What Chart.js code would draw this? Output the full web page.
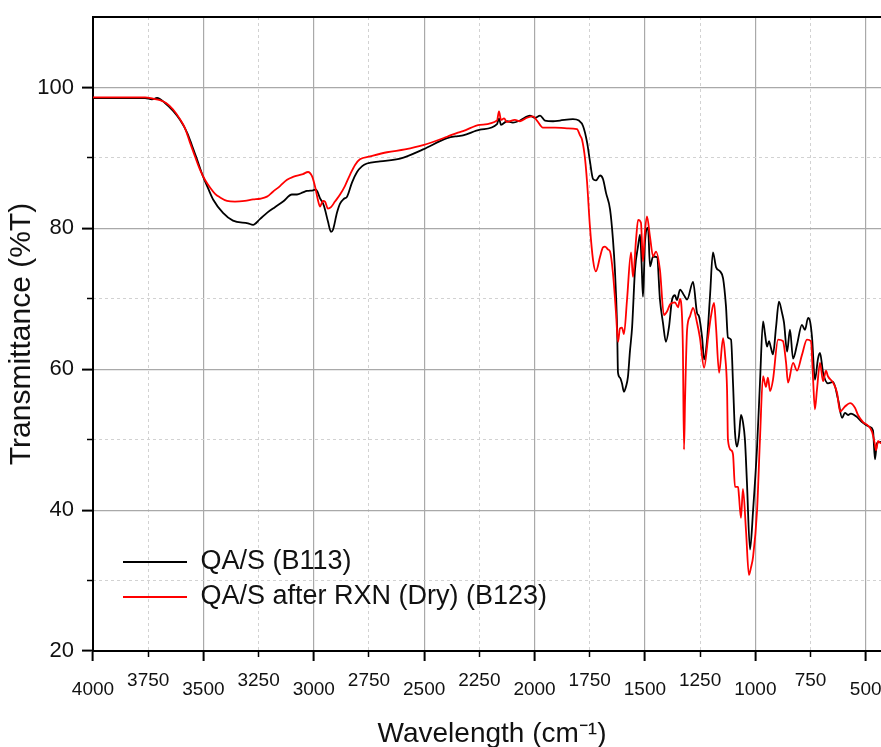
<!DOCTYPE html>
<html>
<head>
<meta charset="utf-8">
<title>FTIR spectra</title>
<script src="https://cdn.jsdelivr.net/npm/chart.js@4.4.1/dist/chart.umd.min.js"></script>
<style>
  html, body { margin: 0; padding: 0; background: #fff; overflow: hidden; }
  #wrap { width: 881px; height: 747px; overflow: hidden; position: relative; }
  canvas { display: block; }
</style>
</head>
<body>
<div id="wrap"><canvas id="ftir" width="891" height="760"></canvas></div>
<script>
// FTIR transmittance spectra, wavenumber in cm^-1 (descending)
const wnB113 = [4000, 3923, 3832, 3764, 3733, 3710, 3674, 3638, 3606, 3574, 3552, 3529, 3502, 3479, 3456, 3411, 3366, 3298, 3275, 3244, 3212, 3176, 3139, 3099, 3076, 3049, 3031, 3003, 2990, 2972, 2954, 2936, 2922, 2913, 2895, 2881, 2863, 2849, 2827, 2804, 2782, 2759, 2700, 2609, 2505, 2396, 2347, 2324, 2247, 2170, 2161, 2152, 2125, 2098, 2066, 2021, 1998, 1975, 1953, 1916, 1885, 1826, 1799, 1780, 1762, 1749, 1735, 1722, 1703, 1690, 1676, 1658, 1645, 1636, 1626, 1622, 1613, 1604, 1595, 1586, 1577, 1568, 1558, 1545, 1531, 1522, 1515, 1509, 1504, 1500, 1486, 1477, 1463, 1445, 1432, 1418, 1405, 1391, 1377, 1364, 1355, 1341, 1323, 1309, 1282, 1264, 1255, 1241, 1232, 1219, 1205, 1192, 1178, 1160, 1146, 1133, 1124, 1110, 1101, 1092, 1083, 1074, 1065, 1056, 1047, 1038, 1024, 1010, 992, 979, 965, 956, 947, 938, 929, 920, 906, 893, 879, 870, 856, 843, 829, 811, 789, 775, 761, 752, 743, 730, 716, 707, 693, 671, 648, 625, 607, 594, 580, 567, 539, 517, 481, 467, 458, 449, 431, 420];
const tB113 = [98.5, 98.5, 98.5, 98.5, 98.3, 98.5, 97.8, 96.7, 95.4, 93.6, 91.8, 89.8, 87.4, 85.7, 84.1, 82.2, 81.1, 80.7, 80.5, 81.3, 82.2, 83.0, 83.8, 84.8, 84.8, 85.1, 85.3, 85.4, 85.5, 84.3, 83.2, 81.0, 79.5, 79.8, 82.2, 83.5, 84.2, 84.5, 86.5, 88.0, 88.8, 89.2, 89.5, 89.9, 91.2, 92.8, 93.1, 93.2, 94.0, 94.8, 95.6, 94.7, 95.2, 95.0, 95.3, 96.0, 95.7, 96.0, 95.3, 95.2, 95.3, 95.5, 95.3, 94.5, 92.2, 89.5, 87.0, 86.8, 87.5, 87.0, 85.0, 82.7, 78.5, 74.1, 66.0, 59.5, 58.8, 58.0, 56.8, 57.5, 58.9, 62.5, 66.0, 74.1, 77.5, 79.1, 75.0, 70.3, 74.0, 78.0, 80.1, 74.6, 76.0, 75.9, 69.9, 66.5, 63.9, 66.0, 69.9, 70.5, 69.8, 71.3, 70.5, 69.9, 72.4, 68.0, 67.5, 64.5, 61.4, 64.0, 70.5, 76.6, 74.5, 73.9, 72.9, 69.0, 64.5, 64.2, 58.0, 51.0, 49.0, 50.5, 53.5, 52.5, 50.0, 44.0, 34.4, 40.0, 49.0, 58.0, 66.8, 65.0, 63.2, 64.0, 63.0, 62.1, 66.0, 69.6, 68.0, 66.6, 62.5, 65.6, 61.5, 63.5, 66.3, 65.6, 67.3, 66.8, 64.5, 58.5, 61.5, 62.3, 59.5, 58.0, 58.2, 55.7, 53.1, 53.8, 53.5, 53.7, 53.2, 52.5, 51.8, 51.3, 47.2, 49.5, 49.7, 49.6];

const wnB123 = [4000, 3878, 3764, 3728, 3697, 3669, 3638, 3606, 3583, 3561, 3538, 3515, 3493, 3470, 3447, 3425, 3393, 3357, 3312, 3275, 3244, 3212, 3185, 3153, 3121, 3094, 3049, 3026, 3008, 2994, 2981, 2972, 2958, 2949, 2936, 2922, 2904, 2881, 2859, 2836, 2813, 2791, 2745, 2668, 2587, 2505, 2396, 2347, 2324, 2247, 2170, 2161, 2152, 2138, 2125, 2089, 2066, 2034, 2007, 1989, 1962, 1907, 1853, 1808, 1794, 1785, 1771, 1762, 1749, 1735, 1722, 1703, 1690, 1681, 1667, 1658, 1645, 1631, 1622, 1613, 1604, 1595, 1581, 1563, 1554, 1540, 1531, 1518, 1509, 1500, 1491, 1477, 1463, 1450, 1432, 1414, 1400, 1386, 1364, 1350, 1341, 1332, 1328, 1323, 1318, 1309, 1296, 1282, 1264, 1251, 1232, 1214, 1201, 1187, 1178, 1164, 1146, 1137, 1128, 1124, 1110, 1101, 1092, 1078, 1074, 1065, 1056, 1042, 1029, 1020, 1010, 992, 979, 965, 952, 943, 933, 920, 897, 875, 861, 852, 829, 811, 789, 766, 748, 739, 730, 721, 707, 693, 680, 671, 648, 630, 616, 594, 571, 548, 535, 512, 490, 471, 458, 453, 444, 431, 420];
const tB123 = [98.6, 98.6, 98.6, 98.4, 98.2, 97.8, 96.9, 95.5, 94.2, 92.2, 90.2, 88.3, 86.9, 85.8, 84.9, 84.4, 83.9, 83.8, 83.9, 84.1, 84.2, 84.5, 85.2, 86.0, 86.9, 87.3, 87.7, 88.0, 87.4, 85.9, 84.0, 83.1, 83.9, 83.8, 82.8, 83.0, 83.8, 84.8, 86.0, 87.6, 89.0, 89.8, 90.2, 90.8, 91.2, 91.8, 93.0, 93.6, 93.8, 94.7, 95.3, 96.6, 95.4, 95.6, 95.1, 95.4, 95.2, 95.7, 95.9, 95.3, 94.3, 94.3, 94.2, 94.1, 93.2, 92.6, 89.8, 86.5, 80.2, 75.5, 73.9, 76.0, 77.3, 77.4, 77.0, 76.7, 73.7, 68.0, 63.9, 65.8, 65.9, 65.0, 69.9, 76.6, 73.1, 78.5, 81.2, 80.8, 75.3, 79.5, 81.7, 78.8, 76.0, 76.7, 74.1, 67.7, 68.2, 69.2, 69.5, 68.8, 70.0, 67.5, 62.8, 48.6, 56.0, 65.6, 67.5, 68.7, 66.6, 64.5, 60.2, 64.5, 67.5, 69.4, 66.0, 59.5, 64.4, 62.0, 57.1, 50.0, 48.5, 47.9, 43.3, 43.3, 42.0, 38.9, 43.0, 37.0, 30.8, 31.8, 33.4, 40.0, 50.0, 59.0, 57.5, 58.8, 56.9, 58.5, 64.2, 64.0, 61.0, 58.1, 60.9, 59.8, 62.0, 64.2, 64.0, 59.0, 54.3, 57.0, 60.9, 58.3, 59.8, 59.0, 58.1, 56.7, 54.0, 54.7, 55.2, 54.5, 53.5, 52.5, 52.0, 51.1, 49.3, 48.5, 49.8, 49.5, 49.5];

const seriesNames = ['QA/S (B113)', 'QA/S after RXN (Dry) (B123)'];

// Axis ticks
const xMajorTicks = [4000, 3500, 3000, 2500, 2000, 1500, 1000, 500];
const xMinorTicks = [3750, 3250, 2750, 2250, 1750, 1250, 750];
const yMajorTicks = [20, 40, 60, 80, 100];
const yMinorTicks = [30, 50, 70, 90];

// Axis ranges
const X_MAX = 4000, X_MIN = 385.4;
const Y_MIN = 20, Y_MAX = 110;

const FAMILY = "'Liberation Sans', Arial, Helvetica, sans-serif";
const TEXT = '#111';
const MAJOR_GRID = '#a9a9a9';
const MINOR_GRID = '#d2d2d2';

const toPoints = (xs, ys) => xs.map((x, i) => ({ x, y: ys[i] }));
const fixedTicks = values => scale => { scale.ticks = values.map(v => ({ value: v })); };
const plain = v => String(v);

// Places the legend inside the plot, lower left
const legendPlacement = {
  id: 'legendPlacement',
  afterLayout(chart) {
    const lg = chart.legend;
    if (!lg) return;
    lg.left = 115;
    lg.top = 540.5;
  }
};

new Chart(document.getElementById('ftir'), {
  type: 'line',
  data: {
    datasets: [
      {
        label: seriesNames[0],
        data: toPoints(wnB113, tB113),
        borderColor: '#000000',
        backgroundColor: '#000000',
        borderWidth: 1.8,
        pointRadius: 0,
        borderJoinStyle: 'round',
        cubicInterpolationMode: 'monotone',
        fill: false,
        order: 1
      },
      {
        label: seriesNames[1],
        data: toPoints(wnB123, tB123),
        borderColor: '#ff0000',
        backgroundColor: '#ff0000',
        borderWidth: 1.8,
        pointRadius: 0,
        borderJoinStyle: 'round',
        cubicInterpolationMode: 'monotone',
        fill: false,
        order: 0
      }
    ]
  },
  options: {
    responsive: false,
    animation: false,
    events: [],
    layout: { padding: { top: 17, right: 0, bottom: 0, left: 0 } },
    scales: {
      x: {
        type: 'linear', position: 'bottom', reverse: true,
        min: X_MIN, max: X_MAX,
        afterBuildTicks: fixedTicks(xMajorTicks),
        afterFit: s => { s.height = 109; s.paddingRight = 0; },
        grid: { color: MAJOR_GRID, lineWidth: 1.2, tickColor: '#000', tickWidth: 2, tickLength: 10 },
        border: { display: true, color: '#000', width: 2 },
        ticks: { autoSkip: false, maxRotation: 0, padding: 17, color: TEXT, font: { family: FAMILY, size: 19 }, callback: plain },
        title: { display: true, text: 'Wavelength (cm⁻¹)', color: TEXT, font: { family: FAMILY, size: 28 }, padding: { top: 0, bottom: 9 } }
      },
      xMinor: {
        type: 'linear', axis: 'x', position: { y: Y_MIN }, reverse: true,
        min: X_MIN, max: X_MAX,
        afterBuildTicks: fixedTicks(xMinorTicks),
        grid: { color: MINOR_GRID, lineWidth: 1, tickColor: '#000', tickWidth: 1.5, tickLength: 6 },
        border: { display: false, dash: [3, 3] },
        ticks: { autoSkip: false, maxRotation: 0, padding: 12, color: TEXT, font: { family: FAMILY, size: 19 }, callback: plain }
      },
      xTop: {
        type: 'linear', axis: 'x', position: 'top', reverse: true,
        min: X_MIN, max: X_MAX,
        afterFit: s => { s.height = 0; },
        grid: { color: 'rgba(0,0,0,0)', drawTicks: false },
        border: { display: true, color: '#000', width: 2 },
        ticks: { display: false }
      },
      y: {
        type: 'linear', position: 'left',
        min: Y_MIN, max: Y_MAX,
        afterBuildTicks: fixedTicks(yMajorTicks),
        afterFit: s => { s.width = 93; s.paddingTop = 0; s.paddingBottom = 0; },
        grid: { color: MAJOR_GRID, lineWidth: 1.2, tickColor: '#000', tickWidth: 2, tickLength: 11 },
        border: { display: true, color: '#000', width: 2 },
        ticks: { padding: 8, color: TEXT, font: { family: FAMILY, size: 22 }, callback: plain },
        title: { display: true, text: 'Transmittance (%T)', color: TEXT, font: { family: FAMILY, size: 30 }, padding: { top: 4, bottom: 0 } }
      },
      yMinor: {
        type: 'linear', axis: 'y', position: { x: X_MAX },
        min: Y_MIN, max: Y_MAX,
        afterBuildTicks: fixedTicks(yMinorTicks),
        grid: { color: MINOR_GRID, lineWidth: 1, tickColor: '#000', tickWidth: 1.5, tickLength: 6 },
        border: { display: false, dash: [3, 3] },
        ticks: { display: false }
      }
    },
    plugins: {
      tooltip: { enabled: false },
      legend: {
        position: 'chartArea',
        align: 'start',
        labels: {
          usePointStyle: true,
          pointStyle: 'line',
          pointStyleWidth: 64,
          padding: 8,
          color: TEXT,
          font: { family: FAMILY, size: 27 },
          sort: (a, b) => a.datasetIndex - b.datasetIndex
        }
      }
    }
  },
  plugins: [legendPlacement]
});
</script>
</body>
</html>
